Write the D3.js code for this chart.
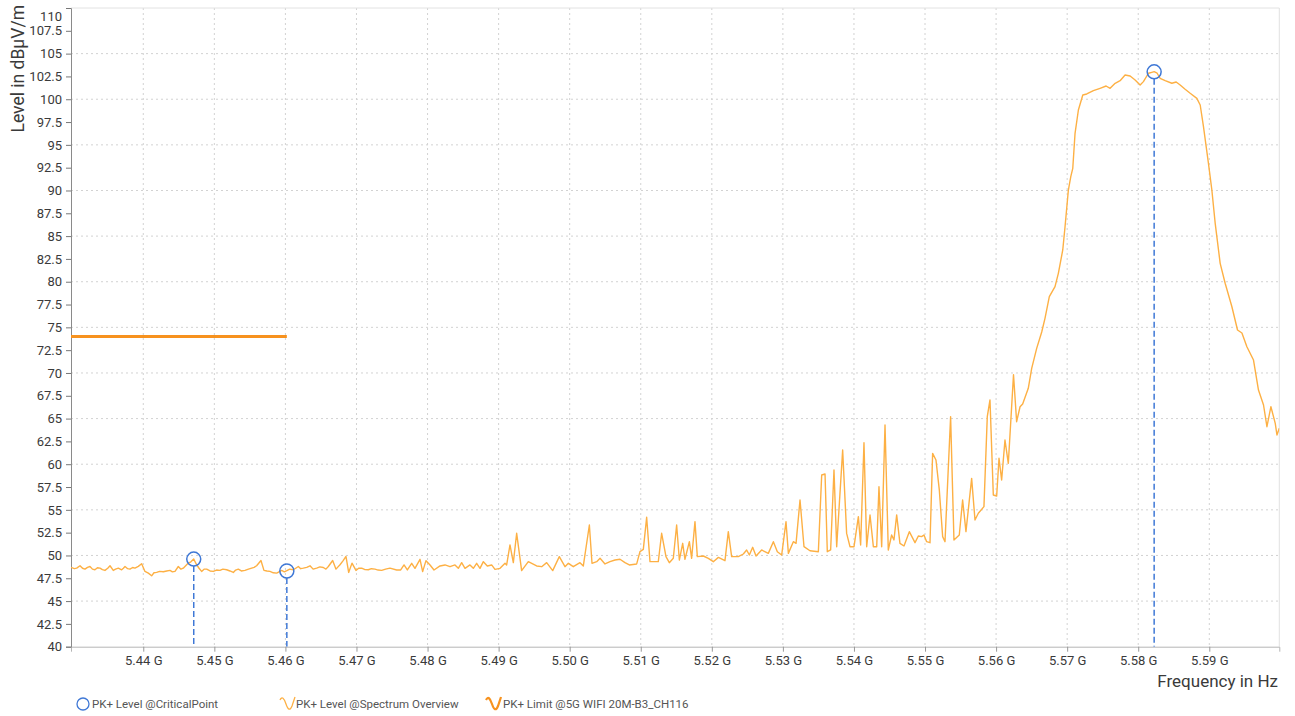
<!DOCTYPE html>
<html>
<head>
<meta charset="utf-8">
<script src="https://cdn.jsdelivr.net/npm/d3@7"></script>
<style>
  body { margin: 0; background: #fff; }
  svg text { font-family: "Segoe UI", Roboto, "Noto Sans", sans-serif; }
</style>
</head>
<body>
<svg id="chart" width="1295" height="716"></svg>
<script>
// spectrum trace, frequency in MHz / level in dBuV/m
const freqMHz = [
  5429.83, 5430.30, 5430.63, 5431.10, 5431.45, 5431.80, 5432.15, 5432.50, 5432.85, 5433.20,
  5433.55, 5433.91, 5434.25, 5434.61, 5435.00, 5435.32, 5435.78, 5436.10, 5436.49, 5436.96,
  5437.20, 5437.43, 5437.80, 5438.13, 5438.50, 5438.83, 5439.30, 5439.77, 5440.24, 5440.71,
  5441.18, 5441.50, 5441.88, 5442.30, 5442.82, 5443.30, 5443.76, 5444.10, 5444.46, 5444.93,
  5445.30, 5445.63, 5446.00, 5446.34, 5446.70, 5447.10, 5447.51, 5447.85, 5448.21, 5448.55,
  5448.92, 5449.40, 5449.85, 5450.30, 5450.79, 5451.20, 5451.73, 5452.20, 5452.67, 5453.00,
  5453.37, 5453.80, 5454.31, 5454.80, 5455.25, 5455.60, 5455.95, 5456.56, 5456.98, 5457.40,
  5457.83, 5458.30, 5458.77, 5459.10, 5459.47, 5459.85, 5460.20, 5460.60, 5461.11, 5461.45,
  5461.82, 5462.15, 5462.52, 5463.00, 5463.46, 5463.90, 5464.40, 5464.85, 5465.33, 5465.70,
  5466.04, 5466.65, 5467.12, 5467.40, 5467.68, 5468.10, 5468.52, 5468.90, 5469.37, 5469.93,
  5470.30, 5470.73, 5471.20, 5471.66, 5472.10, 5472.60, 5473.05, 5473.54, 5474.10, 5474.71,
  5475.66, 5476.22, 5476.69, 5477.16, 5477.77, 5478.23, 5478.94, 5479.31, 5479.78, 5480.35,
  5480.91, 5481.75, 5482.46, 5483.16, 5483.86, 5484.33, 5484.80, 5485.27, 5485.97, 5486.44,
  5486.91, 5487.38, 5487.85, 5488.41, 5489.02, 5489.49, 5490.20, 5490.90, 5491.13, 5491.60,
  5492.07, 5492.54, 5493.24, 5494.18, 5495.35, 5496.06, 5496.76, 5497.61, 5498.54, 5499.34,
  5499.81, 5500.51, 5501.45, 5501.92, 5502.77, 5503.14, 5503.80, 5504.27, 5504.97, 5505.67,
  5506.38, 5507.08, 5507.78, 5508.39, 5509.43, 5509.89, 5510.36, 5510.83, 5511.30, 5512.47,
  5512.94, 5513.55, 5514.02, 5514.58, 5515.05, 5515.43, 5515.90, 5516.22, 5516.84, 5517.16,
  5517.63, 5517.96, 5518.81, 5519.51, 5520.21, 5520.92, 5521.85, 5522.32, 5522.79, 5523.73,
  5524.43, 5524.90, 5525.28, 5525.75, 5526.22, 5527.01, 5527.95, 5528.66, 5529.22, 5529.83,
  5530.44, 5530.77, 5531.47, 5531.85, 5532.41, 5532.97, 5533.81, 5534.99, 5535.46, 5535.93,
  5536.25, 5536.72, 5537.19, 5537.57, 5538.41, 5538.97, 5539.44, 5540.01, 5540.62, 5540.94,
  5541.41, 5541.79, 5542.26, 5542.73, 5543.20, 5543.52, 5543.90, 5544.37, 5544.83, 5545.30,
  5545.63, 5546.01, 5546.47, 5547.04, 5547.79, 5548.59, 5549.06, 5549.52, 5549.85, 5550.23,
  5550.70, 5551.07, 5551.54, 5552.01, 5552.48, 5552.81, 5553.60, 5554.07, 5554.82, 5555.29,
  5555.76, 5556.56, 5557.03, 5557.50, 5558.29, 5558.76, 5559.14, 5559.61, 5560.08, 5560.41,
  5560.78, 5561.25, 5561.72, 5562.45, 5562.89, 5563.37, 5563.74, 5564.53, 5565.01, 5565.71,
  5566.42, 5566.88, 5567.49, 5568.29, 5568.76, 5569.38, 5569.70, 5570.17, 5570.51, 5570.79,
  5571.11, 5571.58, 5572.20, 5572.76, 5573.69, 5574.63, 5575.48, 5576.04, 5576.75, 5577.45,
  5578.15, 5578.86, 5579.56, 5580.27, 5580.73, 5581.44, 5581.91, 5582.24, 5582.66, 5583.08,
  5583.79, 5584.73, 5585.34, 5585.90, 5586.60, 5587.31, 5588.25, 5588.72, 5589.18, 5589.88,
  5590.36, 5590.83, 5591.53, 5592.23, 5593.18, 5593.97, 5594.59, 5595.29, 5596.22, 5596.92,
  5597.63, 5598.11, 5598.67, 5599.28, 5599.52, 5599.85
];
const levelDb = [
  48.70, 48.55, 48.61, 48.87, 48.60, 48.50, 48.70, 48.79, 48.50, 48.43,
  48.65, 48.61, 48.45, 48.36, 48.60, 48.87, 48.36, 48.50, 48.61, 48.43,
  48.60, 48.79, 48.55, 48.50, 48.68, 48.61, 48.80, 49.09, 48.25, 48.06,
  47.77, 48.10, 48.14, 48.25, 48.21, 48.30, 48.36, 48.20, 48.25, 48.79,
  48.50, 48.61, 48.90, 49.16, 49.30, 49.60, 48.98, 48.60, 48.25, 48.50,
  48.50, 48.30, 48.25, 48.40, 48.36, 48.50, 48.43, 48.30, 48.14, 48.40,
  48.50, 48.30, 48.36, 48.50, 48.61, 48.70, 48.87, 49.45, 48.36, 48.30,
  48.25, 48.10, 48.06, 48.20, 48.36, 48.20, 48.33, 48.50, 48.43, 48.60,
  48.79, 48.55, 48.61, 48.70, 48.87, 48.50, 48.61, 48.75, 48.68, 48.50,
  48.79, 49.45, 48.50, 48.75, 48.98, 49.40, 49.89, 48.14, 49.16, 48.36,
  48.60, 48.61, 48.45, 48.43, 48.55, 48.50, 48.40, 48.36, 48.50, 48.61,
  48.41, 48.41, 48.96, 48.41, 49.14, 48.59, 49.58, 48.23, 49.43, 48.96,
  48.41, 48.85, 48.96, 48.77, 48.96, 48.59, 49.21, 48.59, 48.96, 48.59,
  49.14, 48.59, 49.32, 48.85, 48.96, 48.48, 48.59, 49.14, 48.96, 51.15,
  49.21, 52.43, 48.34, 49.32, 48.85, 48.77, 49.21, 48.34, 49.87, 48.77,
  49.14, 48.77, 49.21, 48.85, 53.34, 49.14, 49.32, 49.69, 49.07, 49.32,
  49.50, 49.58, 49.21, 48.96, 49.07, 50.42, 50.67, 54.18, 49.32, 49.32,
  52.43, 49.87, 49.21, 49.69, 53.34, 49.50, 51.33, 49.58, 51.51, 49.69,
  53.71, 49.87, 49.94, 49.68, 49.32, 49.79, 49.43, 52.61, 49.87, 49.87,
  50.16, 50.60, 50.05, 50.89, 49.94, 50.60, 50.23, 51.51, 50.41, 50.05,
  53.70, 50.23, 51.51, 51.33, 56.08, 50.96, 50.52, 50.41, 58.82, 58.93,
  50.41, 50.60, 59.36, 50.96, 61.56, 52.42, 50.96, 50.96, 54.25, 51.15,
  62.36, 50.96, 54.43, 50.96, 50.96, 57.54, 50.96, 64.30, 50.60, 52.24,
  51.70, 54.44, 51.33, 51.04, 52.61, 51.40, 52.13, 52.06, 52.24, 51.51,
  51.40, 61.19, 60.46, 57.18, 52.06, 51.51, 65.21, 51.70, 52.24, 56.08,
  52.61, 58.45, 53.89, 54.62, 55.35, 65.21, 67.04, 56.63, 56.52, 60.65,
  58.27, 62.65, 60.10, 69.80, 64.66, 66.30, 66.60, 68.32, 70.51, 72.70,
  74.49, 75.99, 78.36, 79.46, 80.92, 83.48, 86.03, 90.05, 91.51, 92.43,
  96.27, 98.82, 100.47, 100.58, 100.94, 101.20, 101.45, 101.20, 101.75, 102.03,
  102.66, 102.55, 102.11, 101.56, 101.93, 102.85, 102.95, 103.02, 102.85, 102.30,
  102.03, 101.75, 101.89, 101.56, 101.09, 100.65, 100.10, 99.37, 96.99, 92.98,
  90.05, 86.40, 82.02, 79.83, 77.26, 74.71, 74.38, 72.88, 71.42, 68.13,
  66.49, 64.11, 66.30, 64.48, 63.20, 63.94
];

// critical points (circles + dashed drop lines)
const critFreq = [5447.1, 5460.2, 5582.24];
const critLevel = [49.6, 48.3, 103.0];

// limit line
const limitFreq = [5429.83, 5460.2];
const limitLevel = [74, 74];

const xTicks = [5440, 5450, 5460, 5470, 5480, 5490, 5500, 5510, 5520, 5530, 5540, 5550, 5560, 5570, 5580, 5590];
const yTicks = [40, 42.5, 45, 47.5, 50, 52.5, 55, 57.5, 60, 62.5, 65, 67.5, 70, 72.5, 75, 77.5, 80, 82.5,
                85, 87.5, 90, 92.5, 95, 97.5, 100, 102.5, 105, 107.5, 110];
const yGrid = [45, 50, 55, 60, 65, 70, 75, 80, 85, 90, 95, 100, 105];
const legendLabels = ["PK+ Level @CriticalPoint", "PK+ Level @Spectrum Overview", "PK+ Limit @5G WIFI  20M-B3_CH116"];

const traceColor = "#fdb044";
const limitColor = "#f7921e";
const markColor = "#3f78d6";

const svg = d3.select("#chart");
const pLeft = 71, pRight = 1279.3, pTop = 8, pBottom = 646.7;

const x = d3.scaleLinear().domain([5429.83, 5599.85]).range([pLeft, pRight]);
const y = d3.scaleLinear().domain([40, 110]).range([pBottom, pTop]);

svg.append("rect").attr("width", 1295).attr("height", 716).attr("fill", "#fff");

// grid
svg.append("g").selectAll("line").data(xTicks).enter().append("line")
  .attr("x1", d => x(d)).attr("x2", d => x(d))
  .attr("y1", pTop).attr("y2", pBottom)
  .attr("stroke", "#d2d2d2").attr("stroke-width", 1).attr("stroke-dasharray", "2,3");
svg.append("g").selectAll("line").data(yGrid).enter().append("line")
  .attr("x1", pLeft).attr("x2", pRight)
  .attr("y1", d => y(d)).attr("y2", d => y(d))
  .attr("stroke", "#d2d2d2").attr("stroke-width", 1).attr("stroke-dasharray", "2,3");

// frame top / right
svg.append("line").attr("x1", pLeft).attr("x2", pRight).attr("y1", pTop).attr("y2", pTop).attr("stroke", "#e2e2e2");
svg.append("line").attr("x1", pRight).attr("x2", pRight).attr("y1", pTop).attr("y2", pBottom).attr("stroke", "#e2e2e2");

// axes
const gx = svg.append("g").attr("transform", `translate(0,${pBottom})`)
  .call(d3.axisBottom(x).tickValues(xTicks).tickSize(5).tickPadding(4)
    .tickFormat(d => (d / 1000).toFixed(2) + " G"));
gx.select(".domain").attr("stroke", "#b5b5b5");
gx.selectAll(".tick line").attr("stroke", "#999");
gx.selectAll("text").attr("font-size", "13px").attr("fill", "#3a3a3a");

const gy = svg.append("g").attr("transform", `translate(${pLeft},0)`)
  .call(d3.axisLeft(y).tickValues(yTicks).tickSize(5).tickPadding(4).tickFormat(d => d));
gy.select(".domain").attr("stroke", "#8a8a8a");
gy.selectAll(".tick line").attr("stroke", "#777");
gy.selectAll("text").attr("font-size", "13px").attr("fill", "#3a3a3a");
gy.selectAll(".tick").filter(d => d === 110).select("text").attr("y", 8);

svg.append("clipPath").attr("id", "plotclip").append("rect")
  .attr("x", pLeft).attr("y", pTop).attr("width", pRight - pLeft).attr("height", pBottom - pTop);

const plot = svg.append("g").attr("clip-path", "url(#plotclip)");

// limit
const limitData = limitFreq.map((f, i) => ({ f: f, v: limitLevel[i] }));
plot.append("path").datum(limitData)
  .attr("fill", "none").attr("stroke", limitColor).attr("stroke-width", 3)
  .attr("d", d3.line().x(d => x(d.f)).y(d => y(d.v)));

// spectrum trace
const trace = freqMHz.map((f, i) => ({ f: f, v: levelDb[i] }));
plot.append("path").datum(trace)
  .attr("fill", "none").attr("stroke", traceColor).attr("stroke-width", 1.4)
  .attr("stroke-linejoin", "round")
  .attr("d", d3.line().x(d => x(d.f)).y(d => y(d.v)));

// critical points
const crit = critFreq.map((f, i) => ({ f: f, v: critLevel[i] }));
plot.selectAll(".drop").data(crit).enter().append("line")
  .attr("class", "drop")
  .attr("x1", d => x(d.f)).attr("x2", d => x(d.f))
  .attr("y1", d => y(d.v) + 7).attr("y2", pBottom)
  .attr("stroke", markColor).attr("stroke-width", 1.5).attr("stroke-dasharray", "6,3");
plot.selectAll(".crit").data(crit).enter().append("circle")
  .attr("class", "crit")
  .attr("cx", d => x(d.f)).attr("cy", d => y(d.v)).attr("r", 7)
  .attr("fill", "none").attr("stroke", markColor).attr("stroke-width", 1.5);

// axis titles
svg.append("text")
  .attr("transform", "translate(24,5) rotate(-90)")
  .attr("text-anchor", "end")
  .attr("font-size", "17.5px").attr("fill", "#3a3a3a")
  .text("Level in dB\u00b5V/m");

svg.append("text")
  .attr("x", 1278).attr("y", 687)
  .attr("text-anchor", "end")
  .attr("font-size", "17px").attr("fill", "#3a3a3a")
  .text("Frequency in Hz");

// legend
const lg = svg.append("g").attr("transform", "translate(0,704)");
lg.append("circle").attr("cx", 83).attr("cy", 0).attr("r", 6)
  .attr("fill", "none").attr("stroke", markColor).attr("stroke-width", 1.3);
lg.append("text").attr("x", 92).attr("y", 4).attr("font-size", "11.5px").attr("fill", "#555").text(legendLabels[0]);

const wave = "M0,-4 C2,-8 4,-6 6,0 C8,6 10,7 12,2 L15,-7";
lg.append("path").attr("d", wave).attr("transform", "translate(280,0)")
  .attr("fill", "none").attr("stroke", traceColor).attr("stroke-width", 1.3);
lg.append("text").attr("x", 296).attr("y", 4).attr("font-size", "11.5px").attr("fill", "#555").text(legendLabels[1]);

lg.append("path").attr("d", wave).attr("transform", "translate(486,0)")
  .attr("fill", "none").attr("stroke", limitColor).attr("stroke-width", 2.2);
lg.append("text").attr("x", 503).attr("y", 4).attr("font-size", "11.5px").attr("fill", "#555").text(legendLabels[2]);
</script>
</body>
</html>
